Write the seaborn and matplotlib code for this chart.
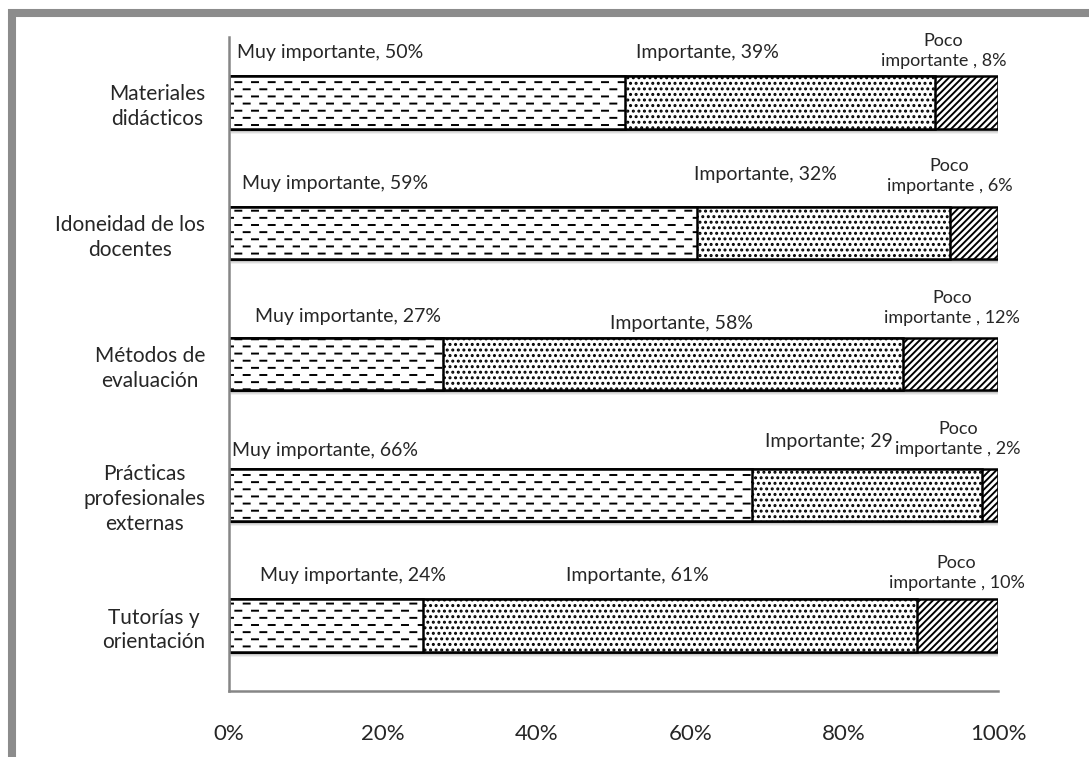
import numpy as np
import pandas as pd
import matplotlib
matplotlib.use("Agg")
import matplotlib.pyplot as plt
import matplotlib.hatch as mhatch
import matplotlib.transforms as mtransforms
from matplotlib.path import Path
from matplotlib.patches import Rectangle
from matplotlib.ticker import FixedLocator, PercentFormatter
import seaborn as sns


# Staggered short dashes instead of continuous lines for the '-' hatch
class DashedHorizontalHatch(mhatch.HatchPatternBase):
    ROWS = 14
    DASHES = 6
    FILL = 0.36

    def __init__(self, hatch, density):
        self.active = hatch.count('-') > 0
        self.num_vertices = self.ROWS * self.DASHES * 2 if self.active else 0

    def set_vertices_and_codes(self, vertices, codes):
        step_y = 1.0 / self.ROWS
        step_x = 1.0 / self.DASHES
        i = 0
        for r in range(self.ROWS):
            y = (r + 0.5) * step_y
            shift = 0.5 * step_x if r % 2 else 0.0
            for d in range(self.DASHES):
                x0 = d * step_x + shift + 0.02
                vertices[i] = (x0, y)
                vertices[i + 1] = (x0 + self.FILL * step_x, y)
                codes[i] = Path.MOVETO
                codes[i + 1] = Path.LINETO
                i += 2


mhatch._hatch_types = [DashedHorizontalHatch if t is mhatch.HorizontalHatch else t
                       for t in mhatch._hatch_types]

# ---- data -------------------------------------------------------------
categories = ["Materiales\ndidácticos",
              "Idoneidad de los\ndocentes",
              "Métodos de\nevaluación",
              "Prácticas\nprofesionales\nexternas",
              "Tutorías y\norientación"]
muy_importante = [50, 59, 27, 66, 24]
importante = [39, 32, 58, 29, 61]
poco_importante = [8, 6, 12, 2, 10]

muy_labels = [f"Muy importante, {v}%" for v in muy_importante]
imp_labels = [f"Importante, {v}%" for v in importante]
imp_labels[3] = f"Importante; {importante[3]}"
poco_labels = [f"Poco\nimportante , {v}%" for v in poco_importante]

# label anchors (x in %, y in category units)
muy_pos = [(13.1, -0.385), (13.8, 0.62), (15.5, 1.64), (12.5, 2.66), (16.1, 3.62)]
imp_pos = [(62.2, -0.385), (69.8, 0.555), (58.9, 1.69), (78.0, 2.59), (53.1, 3.62)]
poco_pos = [(92.9, -0.39), (93.7, 0.565), (94.0, 1.575), (94.8, 2.57), (94.6, 3.60)]

# ---- shares of 100% ---------------------------------------------------
df = pd.DataFrame({"categoria": categories,
                   "muy": muy_importante,
                   "imp": importante,
                   "poco": poco_importante})
total = df[["muy", "imp", "poco"]].sum(axis=1)
df["c1"] = df["muy"] / total * 100
df["c2"] = (df["muy"] + df["imp"]) / total * 100
df["c3"] = (df["muy"] + df["imp"] + df["poco"]) / total * 100

sns.set_theme(style="white")
plt.rcParams["font.family"] = ["Lato", "DejaVu Sans"]
plt.rcParams["hatch.linewidth"] = 1.4
plt.rcParams["hatch.color"] = "#222222"

fig = plt.figure(figsize=(10.89, 7.57), dpi=100)
ax = fig.add_axes([229 / 1089, 1 - 691 / 757, (998 - 229) / 1089, (691 - 37) / 757])

# soft drop shadow under each bar
for dy, alpha in [(-5, 0.06), (-4, 0.08), (-3, 0.10), (-2, 0.12)]:
    n_before = len(ax.patches)
    sns.barplot(data=df, x="c3", y="categoria", orient="h", width=0.4,
                color="#000000", linewidth=0, saturation=1, alpha=alpha, ax=ax)
    shift = mtransforms.ScaledTranslation(1.5 / 100, dy / 100, fig.dpi_scale_trans)
    for p in ax.patches[n_before:]:
        p.set_transform(ax.transData + shift)

layers = [("c3", "/////"), ("c2", "..."), ("c1", "-")]
for col, hatch in layers:
    n_before = len(ax.patches)
    sns.barplot(data=df, x=col, y="categoria", orient="h", width=0.4,
                color="white", edgecolor="black", linewidth=1.8,
                saturation=1, ax=ax)
    for p in ax.patches[n_before:]:
        p.set_hatch(hatch)
        p.set_facecolor("white")
        p.set_alpha(1)

ax.set_xlim(0, 100)
ax.set_ylim(4.5, -0.5)
ax.set_xlabel("")
ax.set_ylabel("")
ax.xaxis.set_major_locator(FixedLocator([0, 20, 40, 60, 80, 100]))
ax.xaxis.set_major_formatter(PercentFormatter(decimals=0))
ax.set_yticks(range(len(categories)))
ax.set_yticklabels(categories, fontsize=15, ha="right", multialignment="center",
                   linespacing=1.3)
ax.yaxis.set_minor_locator(FixedLocator(np.arange(-0.5, 5.0, 1.0)))
ax.tick_params(axis="y", which="major", length=0, pad=17)
ax.tick_params(axis="y", which="minor", length=6, width=1.5, color="#868686", direction="out")
ax.tick_params(axis="x", which="major", length=7, width=1.5, color="#868686",
               direction="out", labelsize=16, pad=17)

for side in ("top", "right"):
    ax.spines[side].set_visible(False)
for side in ("left", "bottom"):
    ax.spines[side].set_color("#868686")
    ax.spines[side].set_linewidth(1.8)

for i in range(len(categories)):
    ax.text(*muy_pos[i], muy_labels[i], fontsize=14, ha="center", va="center")
    ax.text(*imp_pos[i], imp_labels[i], fontsize=14, ha="center", va="center")
    ax.text(*poco_pos[i], poco_labels[i], fontsize=13, ha="center", va="center",
            linespacing=1.3)

# outer frame of the chart area
fig.patches.append(Rectangle((12 / 1089, -0.2), 1.5, 1.2 - 13.5 / 757,
                             transform=fig.transFigure, fill=False,
                             edgecolor="#8c8c8c", linewidth=5.8, zorder=0))

fig.savefig("out.png", dpi=100, facecolor="white")
